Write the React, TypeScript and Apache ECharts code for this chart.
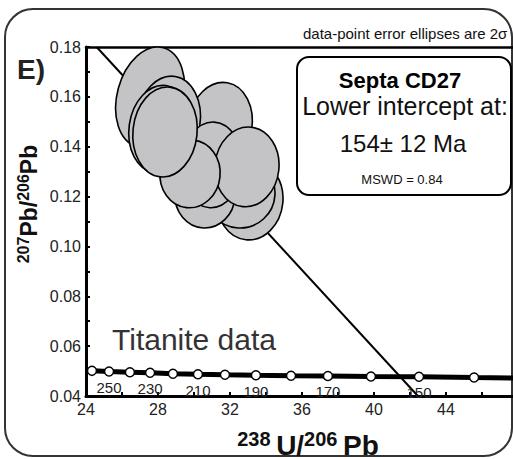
import React, { useEffect, useRef } from "react";
import * as echarts from "echarts";

const FONT = "'Liberation Sans', Arial, Helvetica, sans-serif";

// Axis ranges / ticks
const xMin = 24;
const xMax = 48;
const xStep = 4;
const yMin = 0.04;
const yMax = 0.18;
const yStep = 0.02;

// Concordia (Tera-Wasserburg) marker ages and positions
const concordiaAge = [260, 250, 240, 230, 220, 210, 200, 190, 180, 170, 160, 150, 140];
const concordiaX = [24.33, 25.28, 26.44, 27.56, 28.83, 30.22, 31.72, 33.44, 35.39, 37.44, 39.83, 42.5, 45.56];
const concordiaY = [0.0501, 0.0498, 0.04955, 0.0493, 0.0489, 0.0487, 0.0485, 0.0483, 0.0481, 0.048, 0.0478, 0.0477, 0.0474];
const labelledAges = [250, 230, 210, 190, 170, 150];
const concordiaEndsX = [24, 48];
const concordiaEndsY = [0.0502, 0.0472];

// Discordia (regression) line
const discordiaX = [24.59, 42.44];
const discordiaY = [0.18, 0.04];

// Error ellipses (centre x, centre y, semi-axis x, semi-axis y, tilt in degrees clockwise), back to front
const ellX = [27.56, 31.44, 28.56, 28.11, 33.11, 32.56, 30.61, 31.0, 32.94, 29.78, 28.39];
const ellY = [0.1599, 0.1487, 0.1503, 0.1471, 0.1186, 0.1214, 0.1206, 0.1327, 0.1319, 0.1291, 0.1459];
const ellRx = [1.83, 1.78, 1.78, 1.72, 1.83, 1.94, 1.67, 1.67, 1.78, 1.67, 1.78];
const ellRy = [0.0205, 0.0172, 0.0181, 0.0176, 0.016, 0.014, 0.0132, 0.0172, 0.016, 0.0136, 0.0181];
const ellTilt = [15, 10, 9, 8, 6, 3, 3, 3, 6, 6, 6];

export default function App() {
  const ref = useRef<HTMLDivElement>(null);

  useEffect(() => {
    if (!ref.current) return;
    const chart = echarts.init(ref.current, undefined, { renderer: "svg" });

    const concData: any[] = [];
    concData.push({ value: [concordiaEndsX[0], concordiaEndsY[0]], symbol: "none" });
    concordiaX.forEach((x, i) => {
      const age = concordiaAge[i];
      const show = labelledAges.indexOf(age) >= 0;
      concData.push({
        value: [x, concordiaY[i]],
        label: {
          show,
          formatter: String(age),
          position: "bottom",
          distance: 3,
          color: "#222",
          fontSize: 15,
          fontFamily: FONT,
        },
      });
    });
    concData.push({ value: [concordiaEndsX[1], concordiaEndsY[1]], symbol: "none" });

    const ellData = ellX.map((x, i) => [x, ellY[i], ellRx[i], ellRy[i], ellTilt[i]]);

    const option: any = {
      animation: false,
      grid: {
        left: 86,
        top: 47,
        right: -5,
        bottom: 63,
        containLabel: false,
        outerBoundsMode: "none",
      },
      xAxis: [
        {
          type: "value",
          min: xMin,
          max: xMax,
          interval: xStep,
          position: "bottom",
          axisLine: { show: true, onZero: false, lineStyle: { color: "#000", width: 3 } },
          axisTick: { show: true, inside: true, length: 4, lineStyle: { color: "#000", width: 2 } },
          minorTick: { show: true, splitNumber: 2, length: 4, lineStyle: { color: "#000", width: 2 } },
          axisLabel: {
            color: "#222",
            fontSize: 16,
            fontFamily: FONT,
            margin: 5,
            formatter: (v: number) => (v >= xMax ? "" : String(v)),
          },
          splitLine: { show: false },
        },
        {
          type: "value",
          min: xMin,
          max: xMax,
          position: "top",
          axisLine: { show: true, onZero: false, lineStyle: { color: "#000", width: 2.5 } },
          axisTick: { show: false },
          axisLabel: { show: false },
          splitLine: { show: false },
        },
      ],
      yAxis: {
        type: "value",
        min: yMin,
        max: yMax,
        interval: yStep,
        axisLine: { show: true, onZero: false, lineStyle: { color: "#000", width: 3 } },
        axisTick: { show: true, inside: true, length: 4, lineStyle: { color: "#000", width: 2 } },
        minorTick: { show: true, splitNumber: 2, length: 4, lineStyle: { color: "#000", width: 2 } },
        axisLabel: {
          color: "#222",
          fontSize: 16,
          fontFamily: FONT,
          margin: 5,
          formatter: (v: number) => v.toFixed(2),
        },
        splitLine: { show: false },
      },
      series: [
        {
          type: "line",
          data: discordiaX.map((x, i) => [x, discordiaY[i]]),
          symbol: "none",
          lineStyle: { color: "#000", width: 2 },
          z: 2,
        },
        {
          type: "custom",
          coordinateSystem: "cartesian2d",
          data: ellData,
          encode: { x: 0, y: 1 },
          z: 3,
          renderItem: (params: any, api: any) => {
            const c = api.coord([api.value(0), api.value(1)]);
            const s = api.size([api.value(2), api.value(3)]);
            return {
              type: "ellipse",
              x: c[0],
              y: c[1],
              rotation: (-api.value(4) * Math.PI) / 180,
              shape: { cx: 0, cy: 0, rx: s[0], ry: s[1] },
              style: { fill: "#c4c4c6", stroke: "#000", lineWidth: 1.6 },
            };
          },
        },
        {
          type: "line",
          data: concData,
          showAllSymbol: true,
          symbol: "circle",
          symbolSize: 9,
          itemStyle: { color: "#fff", borderColor: "#000", borderWidth: 1.5 },
          lineStyle: { color: "#000", width: 5 },
          z: 4,
        },
      ],
      graphic: [
        {
          type: "rect",
          shape: { x: 5, y: 9, width: 507, height: 447, r: 28 },
          style: { fill: "none", stroke: "#333", lineWidth: 2 },
          z: 0,
        },
        {
          type: "text",
          x: 17,
          y: 69,
          style: {
            text: "E)",
            font: `bold 28px ${FONT}`,
            fill: "#222",
            textAlign: "left",
            textVerticalAlign: "middle",
          },
        },
        {
          type: "text",
          x: 303,
          y: 33,
          style: {
            text: "data-point error ellipses are 2σ",
            font: `15px ${FONT}`,
            fill: "#111",
            textAlign: "left",
            textVerticalAlign: "middle",
          },
        },
        {
          type: "rect",
          shape: { x: 297, y: 57, width: 214, height: 138, r: 12 },
          style: { fill: "#fff", stroke: "#000", lineWidth: 2 },
          z: 10,
        },
        {
          type: "text",
          x: 400,
          y: 80,
          z: 11,
          style: {
            text: "Septa CD27",
            font: `bold 22px ${FONT}`,
            fill: "#000",
            textAlign: "center",
            textVerticalAlign: "middle",
          },
        },
        {
          type: "text",
          x: 405,
          y: 106,
          z: 11,
          style: {
            text: "Lower intercept at:",
            font: `25px ${FONT}`,
            fill: "#111",
            textAlign: "center",
            textVerticalAlign: "middle",
          },
        },
        {
          type: "text",
          x: 403,
          y: 143,
          z: 11,
          style: {
            text: "154± 12 Ma",
            font: `24px ${FONT}`,
            fill: "#111",
            textAlign: "center",
            textVerticalAlign: "middle",
          },
        },
        {
          type: "text",
          x: 402,
          y: 179,
          z: 11,
          style: {
            text: "MSWD = 0.84",
            font: `13px ${FONT}`,
            fill: "#111",
            textAlign: "center",
            textVerticalAlign: "middle",
          },
        },
        {
          type: "text",
          x: 112,
          y: 339,
          style: {
            text: "Titanite data",
            font: `30px ${FONT}`,
            fill: "#333",
            textAlign: "left",
            textVerticalAlign: "middle",
          },
        },
        {
          type: "text",
          x: 308,
          y: 444,
          style: {
            text: "{s|238 }{m|U/}{s|206 }{m|Pb}",
            textAlign: "center",
            textVerticalAlign: "middle",
            fill: "#111",
            rich: {
              s: { fontSize: 20, fontWeight: "bold", fontFamily: FONT, lineHeight: 18, verticalAlign: "top", fill: "#111" },
              m: { fontSize: 28, fontWeight: "bold", fontFamily: FONT, lineHeight: 30, verticalAlign: "bottom", fill: "#111" },
            },
          },
        },
        {
          type: "text",
          x: 28,
          y: 204,
          rotation: Math.PI / 2,
          style: {
            text: "{s|207}{m|Pb/}{s|206}{m|Pb}",
            textAlign: "center",
            textVerticalAlign: "middle",
            fill: "#111",
            rich: {
              s: { fontSize: 16, fontWeight: "bold", fontFamily: FONT, lineHeight: 14, verticalAlign: "top", fill: "#111" },
              m: { fontSize: 23, fontWeight: "bold", fontFamily: FONT, lineHeight: 25, verticalAlign: "bottom", fill: "#111" },
            },
          },
        },
      ],
    };

    chart.setOption(option);
    return () => {
      chart.dispose();
    };
  }, []);

  return (
    <div
      ref={ref}
      style={{ position: "fixed", left: 0, top: 0, width: 513, height: 459, background: "#fff" }}
    />
  );
}
